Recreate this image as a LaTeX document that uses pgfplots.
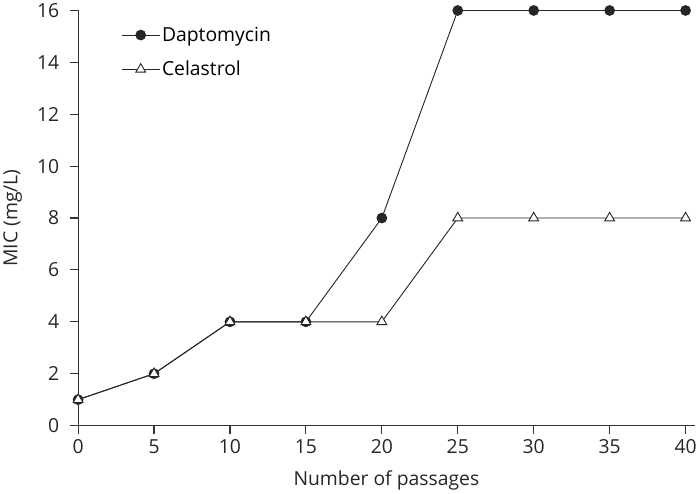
\documentclass[border=0pt]{standalone}
\usepackage{pgfplots}
\pgfplotsset{compat=1.18}
\usepackage{fontspec}
\setmainfont{Open Sans}
\begin{document}
\begin{tikzpicture}
\begin{axis}[
  scale only axis,
  width=606pt, height=408pt,
  xmin=0, xmax=40.6, ymin=0, ymax=16,
  axis x line*=bottom, axis y line*=left,
  axis line style={line width=1.1pt, color=black!80},
  clip=false,
  xtick={0,5,...,40}, ytick={0,2,...,16},
  tick align=outside, major tick length=8pt,
  tick style={line width=1.1pt, color=black!80},
  /pgf/number format/assume math mode=true,
  tick label style={font=\fontsize{19}{22}\selectfont, text=black!85},
  label style={font=\fontsize{19}{22}\selectfont, text=black!85},
  xticklabel style={yshift=-2pt},
  yticklabel style={xshift=-7pt},
  xlabel={Number of passages},
  ylabel={MIC (mg/L)},
  xlabel style={yshift=-10pt},
  ylabel style={yshift=8pt},
  legend style={draw=none, at={(0.065,0.97)}, anchor=north west,
    font=\fontsize{19}{22}\selectfont, row sep=14pt, fill=none},
  legend cell align=left,
  legend image code/.code={
    \draw[#1, mark=none] (0pt,0pt) -- (37pt,0pt);
    \draw[#1, only marks] plot coordinates {(18.5pt,0pt)};
  },
]
\addplot[black!85, line width=0.9pt, mark=*, mark size=4.8pt, mark options={fill=black!85, draw=black!85}]
  coordinates {(0,1) (5,2) (10,4) (15,4) (20,8) (25,16) (30,16) (35,16) (40,16)};
\addlegendentry{Daptomycin}
\addplot[black!85, line width=0.9pt, mark=triangle*, mark size=5.6pt, mark options={fill=white, draw=black!85, line width=0.9pt}]
  coordinates {(0,1) (5,2) (10,4) (15,4) (20,4) (25,8) (30,8) (35,8) (40,8)};
\addlegendentry{Celastrol}
\end{axis}
\end{tikzpicture}
\end{document}
